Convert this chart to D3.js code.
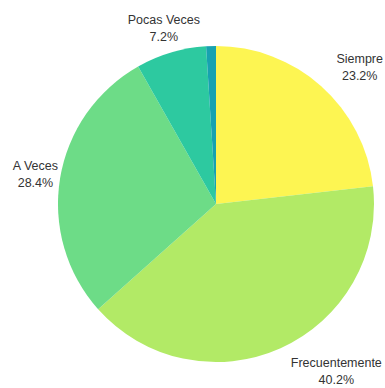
<!DOCTYPE html>
<html>
<head>
<meta charset="utf-8">
<script src="https://cdn.jsdelivr.net/npm/d3@7"></script>
<style>
  html, body { margin: 0; padding: 0; background: #fff; }
  svg { display: block; }
  text { font-family: "Liberation Sans", Arial, sans-serif; font-size: 12.5px; fill: #333; }
</style>
</head>
<body>
<svg id="chart" width="385" height="388"></svg>
<script>
// Survey answer categories and their shares (%)
const categories = ["Siempre", "Frecuentemente", "A Veces", "Pocas Veces", "Nunca"];
const values = [23.2, 40.2, 28.4, 7.2, 1.0];
const colors = ["#fdf552", "#b2ea66", "#6ddc87", "#2dc9a0", "#17a2b0"];

const W = 385, H = 388;
const cx = 216, cy = 204, radius = 158;
const labelRadius = 183;
const minLabelShare = 2; // slices smaller than this stay unlabeled

const svg = d3.select("#chart");
const g = svg.append("g").attr("transform", `translate(${cx},${cy})`);

const data = categories.map((c, i) => ({ name: c, value: values[i], color: colors[i] }));

const pie = d3.pie().value(d => d.value).sort(null);
const arc = d3.arc().innerRadius(0).outerRadius(radius);
const labelArc = d3.arc().innerRadius(labelRadius).outerRadius(labelRadius);
const arcs = pie(data);

g.selectAll("path.slice")
  .data(arcs)
  .join("path")
  .attr("class", "slice")
  .attr("d", arc)
  .attr("fill", d => d.data.color);

// Outside labels: name on the first line, share centred below it.
// Right-half label boxes start at the anchor point, left-half boxes are centred on it.
const labels = g.selectAll("g.label")
  .data(arcs.filter(d => d.data.value >= minLabelShare))
  .join("g")
  .attr("class", "label");

labels.each(function(d) {
  const sel = d3.select(this);
  const [px, py] = labelArc.centroid(d);
  const t = sel.append("text").attr("text-anchor", "middle");
  t.append("tspan").attr("x", 0).attr("dy", "-0.33em").text(d.data.name);
  t.append("tspan").attr("x", 0).attr("dy", "1.36em").text(d3.format(".1f")(d.data.value) + "%");
  const bb = t.node().getBBox();
  let x = px > 0 ? px + bb.width / 2 : px;
  // keep the label box inside the drawing area
  const left = cx + x - bb.width / 2, right = left + bb.width;
  if (right > W - 2) x -= right - (W - 2);
  if (left < 10) x += 10 - left;
  sel.attr("transform", `translate(${x},${py})`);
});
</script>
</body>
</html>
